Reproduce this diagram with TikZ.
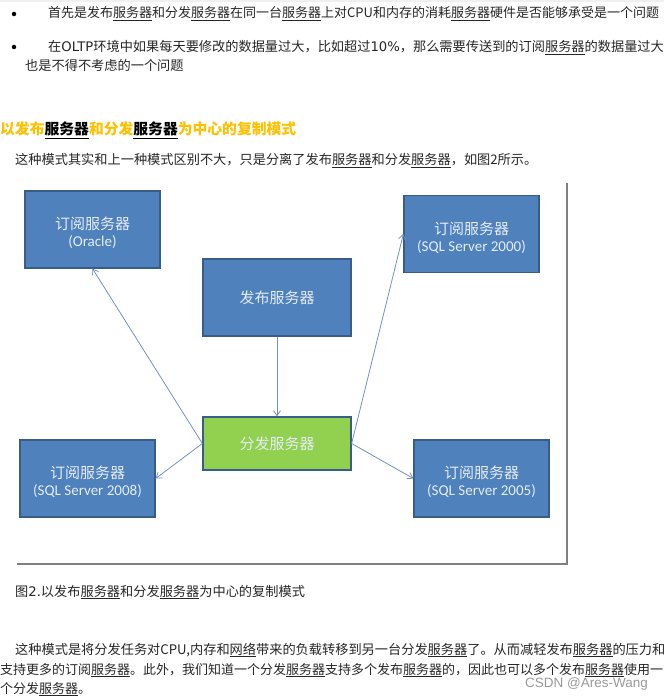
\documentclass[tikz,border=0pt]{standalone}
\usepackage{fontspec}
\setmainfont{Noto Sans CJK SC}
\newfontfamily\latinbox{Carlito}
\newfontfamily\markfont{Liberation Sans}
\newfontfamily\widelatin{DejaVu Sans}
\usetikzlibrary{arrows.meta}
\definecolor{bodytxt}{HTML}{262626}
\definecolor{boxblue}{HTML}{4F81BD}
\definecolor{boxedge}{HTML}{385D8A}
\definecolor{boxgreen}{HTML}{92D050}
\definecolor{boxtxt}{HTML}{E4ECF5}
\definecolor{linkblue}{HTML}{7392C4}
\definecolor{headorange}{HTML}{FFC000}
\newcommand{\fw}[1]{\underline{#1}}
\newcommand{\hw}[1]{\textcolor{black}{\underline{#1}}}
\newcommand{\lat}[1]{{\widelatin #1}}
\tikzset{
  bodyline/.style={anchor=base west,inner sep=0pt,text=bodytxt,font=\fontsize{13.2}{15}\selectfont},
  tightline/.style={bodyline,font=\fontsize{13}{15}\selectfont},
  headline/.style={anchor=base west,inner sep=0pt,text=headorange,font=\bfseries\fontsize{14.8}{17}\selectfont},
  markline/.style={anchor=base west,inner sep=0pt,text=black!40,font=\markfont\fontsize{13.5}{15}\selectfont},
  server/.style={draw=boxedge,line width=1.3pt,fill=boxblue,text=boxtxt,align=center,minimum width=135pt,minimum height=77pt,inner sep=0pt,font=\fontsize{15}{21}\selectfont},
  hub/.style={server,fill=boxgreen,minimum width=148pt,minimum height=53pt},
  pubbox/.style={server,minimum width=148pt},
  link/.style={draw=linkblue,line width=0.8pt,-{Straight Barb[length=5pt,width=7pt]}},
  bulletdot/.style={circle,fill=black,inner sep=0pt,minimum size=4.5pt}
}
\newcommand{\sub}[1]{{\latinbox\fontsize{15}{16}\selectfont #1}}
\newcommand{\firstln}[1]{\rule{0pt}{19.5pt}#1}
\begin{document}
\begin{tikzpicture}[x=1pt,y=-1pt]
\useasboundingbox (0,0) rectangle (664,700);
\clip (0,0) rectangle (664,700);
\fill[black!6] (0,0) rectangle (664,2);
\node[bulletdot] (b1) at (14,14) {};
\node[bulletdot] (b2) at (14,47) {};
\node[tightline] (t1) at (48,18) {首先是发布\fw{服务器}和分发\fw{服务器}在同一台\fw{服务器}上对CPU和内存的消耗\fw{服务器}硬件是否能够承受是一个问题};
\node[bodyline] (t2) at (48,52) {在\lat{OLTP}环境中如果每天要修改的数据量过大，比如超过\lat{10\%}，那么需要传送到的订阅\fw{服务器}的数据量过大};
\node[bodyline] (t3) at (25,71) {也是不得不考虑的一个问题};
\node[headline] (h) at (0,135) {以发布\hw{服务器}和分发\hw{服务器}为中心的复制模式};
\node[bodyline] (t4) at (15,165) {这种模式其实和上一种模式区别不大，只是分离了发布\fw{服务器}和分发\fw{服务器}，如图2所示。};
% panel
\fill[black!50] (17,183) rectangle (567.5,565);
\fill[white] (15,180) rectangle (565.5,562.5);
% nodes
\node[server] (oracle) at (92.5,229.5) {\firstln{订阅服务器}\\[-4pt]\sub{(Oracle)}};
\node[server] (s2000) at (471.5,234) {\firstln{订阅服务器}\\[-4pt]\sub{(SQL Server 2000)}};
\node[pubbox] (pub) at (277,297.5) {发布服务器};
\node[hub] (dist) at (277,443.5) {分发服务器};
\node[server] (s2008) at (87.5,478.5) {\firstln{订阅服务器}\\[-4pt]\sub{(SQL Server 2008)}};
\node[server] (s2005) at (481.5,478.5) {\firstln{订阅服务器}\\[-4pt]\sub{(SQL Server 2005)}};
% connectors
\draw[link] (pub.south) -- (dist.north);
\draw[link] (dist.west) -- (oracle.south);
\draw[link] (dist.west) -- (s2008.east);
\draw[link] (dist.east) -- (s2000.west);
\draw[link] (dist.east) -- (s2005.west);
% lower text
\node[bodyline] (cap) at (15,596) {图\lat{2.}以发布\fw{服务器}和分发\fw{服务器}为中心的复制模式};
\node[bodyline] (p1) at (15,654) {这种模式是将分发任务对CPU,内存和\fw{网络}带来的负载转移到另一台分发\fw{服务器}了。从而减轻发布\fw{服务器}的压力和};
\node[tightline] (p2) at (0,674) {支持更多的订阅\fw{服务器}。此外，我们知道一个分发\fw{服务器}支持多个发布\fw{服务器}的，因此也可以多个发布\fw{服务器}使用一};
\node[tightline] (p3) at (0,693) {个分发\fw{服务器}。};
\node[markline] (wm) at (525,687) {CSDN @Ares-Wang};
\end{tikzpicture}
\end{document}
